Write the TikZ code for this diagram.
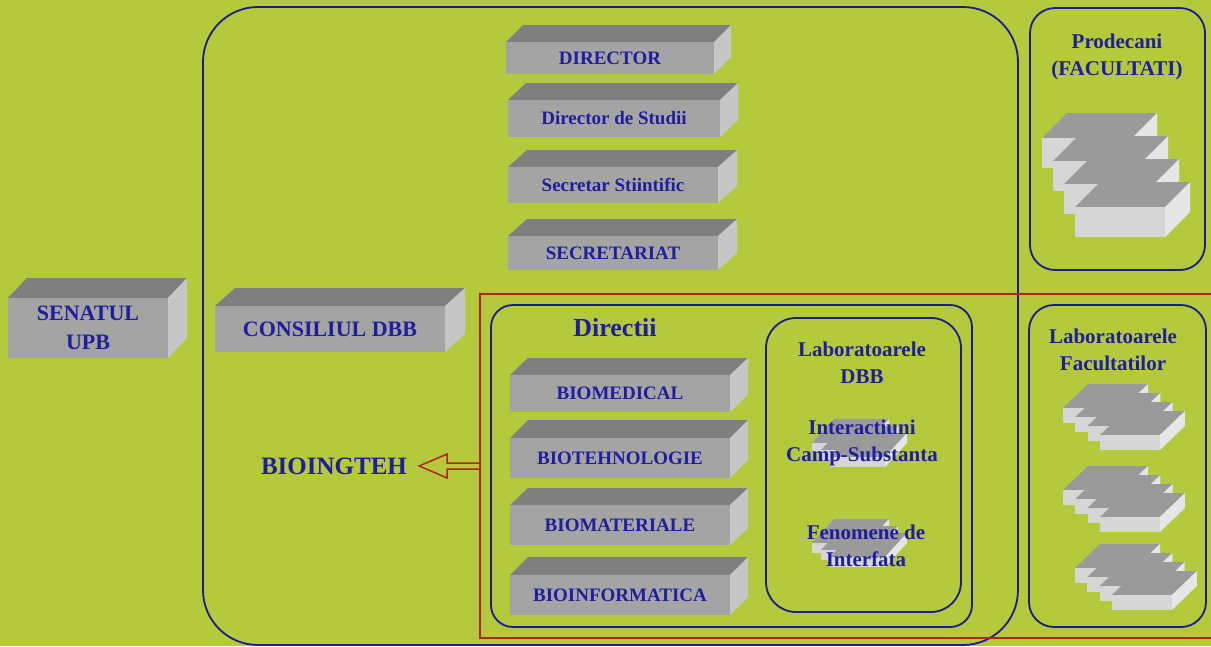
\documentclass[tikz,border=0pt]{standalone}
\usepackage{fontspec}
\setmainfont{Liberation Serif}
\usetikzlibrary{calc}
\definecolor{bg}{HTML}{B4C93C}
\definecolor{navy}{HTML}{1C1C8E}
\definecolor{txt}{HTML}{1E1E9E}
\definecolor{redl}{HTML}{B5231A}
\definecolor{bfront}{HTML}{A4A4A4}
\definecolor{btop}{HTML}{7F7F7F}
\definecolor{bside}{HTML}{C6C6C6}
\definecolor{sfront}{HTML}{D6D6D6}
\definecolor{stop}{HTML}{9A9A9A}
\definecolor{sside}{HTML}{E6E6E6}
\tikzset{
  lbl/.style={text=txt, inner sep=0pt, align=center, font=\fontsize{19}{22}\selectfont\bfseries},
  biglbl/.style={text=txt, inner sep=0pt, align=center, font=\fontsize{22}{29}\selectfont\bfseries},
  sidelbl/.style={text=txt, inner sep=0pt, align=center, font=\fontsize{21}{27}\selectfont\bfseries},
  frame/.style={draw=navy, line width=1.8pt, inner sep=0pt, fill=none},
}
% 3D box: name, x0, y0, x1, y1, depth-x, depth-y, style, label
\newcommand\boxthree[9]{%
  \fill[btop] (#2,#3) -- (#4,#3) -- ({#4+#6},{#3-#7}) -- ({#2+#6},{#3-#7}) -- cycle;
  \fill[bfront] (#2,#3) rectangle (#4,#5);
  \fill[bside] (#4,#3) -- ({#4+#6},{#3-#7}) -- ({#4+#6},{#5-#7}) -- (#4,#5) -- cycle;
  \node[#8] (#1) at ({(#2+#4)/2},{(#3+#5)/2}) {#9};
}
% slab: x, y, w, t, d, h
\newcommand\slab[6]{%
  \fill[stop] (#1,#2) -- ({#1+#3},#2) -- ({#1+#3+#5},{#2-#6}) -- ({#1+#5},{#2-#6}) -- cycle;
  \fill[sfront] (#1,#2) rectangle ({#1+#3},{#2+#4});
  \fill[sside] ({#1+#3},#2) -- ({#1+#3+#5},{#2-#6}) -- ({#1+#3+#5},{#2-#6+#4}) -- ({#1+#3},{#2+#4}) -- cycle;
}
\begin{document}
\begin{tikzpicture}[x=1pt, y=-1pt]
\useasboundingbox (0,0) rectangle (1211,646);
\clip (0,0) rectangle (1211,646);
\fill[bg] (0,0) rectangle (1211,646);

% frames
\node[frame, rounded corners=55pt, minimum width=815pt, minimum height=638pt] (dbb) at (610.5,326) {};
\node[frame, rounded corners=25pt, minimum width=175pt, minimum height=262pt] (prod) at (1117.5,139) {};
\node[frame, rounded corners=25pt, minimum width=177pt, minimum height=322pt] (labfac) at (1117.5,466) {};
\node[draw=redl, line width=1.6pt, inner sep=0pt, minimum width=735pt, minimum height=344pt] (red) at (847.5,466) {};
\node[frame, rounded corners=22pt, minimum width=481pt, minimum height=322pt] (dir) at (731.5,466) {};
\node[frame, rounded corners=30pt, minimum width=195pt, minimum height=294pt] (labdbb) at (863.5,465) {};

% 3D boxes
\boxthree{director}{506}{42}{714}{74}{17}{17}{lbl}{DIRECTOR}
\boxthree{studii}{508}{100}{720}{137}{18}{17}{lbl}{Director de Studii}
\boxthree{secstiint}{508}{167}{718}{203}{19}{17}{lbl}{Secretar Stiintific}
\boxthree{secretariat}{508}{236}{718}{270}{19}{17}{lbl}{SECRETARIAT}
\boxthree{senat}{8}{298}{168}{358}{19}{20}{biglbl}{SENATUL\\UPB}
\boxthree{consiliu}{215}{306}{445}{352}{20}{18}{biglbl}{CONSILIUL DBB}
\boxthree{biomed}{510}{375}{730}{412}{18}{17}{lbl}{BIOMEDICAL}
\boxthree{biotehn}{510}{438}{730}{478}{18}{18}{lbl}{BIOTEHNOLOGIE}
\boxthree{biomat}{510}{505}{730}{545}{18}{17}{lbl}{BIOMATERIALE}
\boxthree{bioinf}{510}{575}{730}{615}{18}{18}{lbl}{BIOINFORMATICA}

% Prodecani stack
\foreach \i in {0,...,3} {\slab{1042+11*\i}{138+23*\i}{90}{30}{25}{25}}
% Laboratoarele Facultatilor stacks
\foreach \i in {0,...,3} {\slab{1063+12.3*\i}{408+9*\i}{60}{15}{25}{24}}
\foreach \i in {0,...,3} {\slab{1063+12.3*\i}{490+9*\i}{60}{15}{25}{24}}
\foreach \i in {0,...,3} {\slab{1075+12.3*\i}{568+9*\i}{60}{15}{25}{24}}
% Laboratoarele DBB small stacks
\foreach \i in {0,...,2} {\slab{812+9*\i}{443+7*\i}{55}{10}{22}{24}}
\foreach \i in {0,...,2} {\slab{812+9*\i}{543+7*\i}{55}{10}{22}{24}}

% labels
\node[sidelbl] (prodlbl) at (1117,57) {Prodecani\\(FACULTATI)};
\node[sidelbl] (labfaclbl) at (1113,350) {Laboratoarele\\Facultatilor};
\node[sidelbl] (labdbblbl) at (862,363) {Laboratoarele\\DBB};
\node[sidelbl] (interact) at (862,443) {Interactiuni\\Camp-Substanta};
\node[sidelbl] (fenom) at (866,546) {Fenomene de\\Interfata};
\node[text=txt, inner sep=0pt, font=\fontsize{26}{30}\selectfont\bfseries] (directii) at (615,328) {Directii};
\node[text=txt, inner sep=0pt, font=\fontsize{25}{30}\selectfont\bfseries] (bioingteh) at (334,466) {BIOINGTEH};

% hollow arrow from red frame to BIOINGTEH
\draw[redl, line width=1.5pt, line join=miter]
  ($(red.west)+(0,-3)$) -- ++(-32,0) -- ++(0,-9) -- ++(-28,12) -- ++(28,12) -- ++(0,-9) -- ++(32,0);
\end{tikzpicture}
\end{document}
